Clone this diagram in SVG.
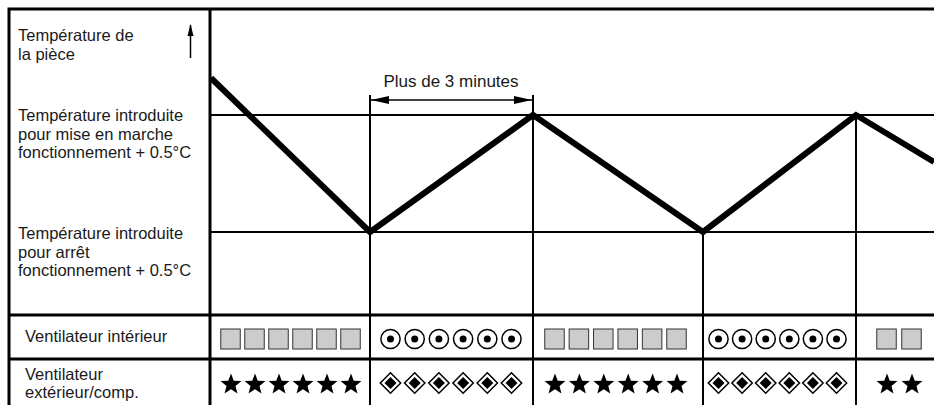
<svg xmlns="http://www.w3.org/2000/svg" xmlns:xlink="http://www.w3.org/1999/xlink" width="934" height="405" viewBox="0 0 934 405">
<defs>
<style>
.lbl{font-family:"Liberation Sans",Arial,sans-serif;font-size:16.5px;fill:#1a1a1a}
.frame{stroke:#000;stroke-width:3;fill:none}
.grid{stroke:#000;stroke-width:2;fill:none}
.sq{fill:#cccccc;stroke:#333;stroke-width:1}
</style>
<marker id="ah" viewBox="0 0 18 8" refX="18" refY="4" markerWidth="18" markerHeight="8" markerUnits="userSpaceOnUse" orient="auto-start-reverse">
<path d="M0,0 L18,4 L0,8 z" fill="#000"/>
</marker>
<polygon id="star" points="0,-11 2.78,-3.82 10.46,-3.4 4.49,1.46 6.47,8.9 0,4.72 -6.47,8.9 -4.49,1.46 -10.46,-3.4 -2.78,-3.82" fill="#000"/>
<rect id="sq" x="-9.75" y="-10" width="19.5" height="20" class="sq"/>
<g id="circ"><circle r="9.6" fill="#fff" stroke="#000" stroke-width="1.5"/><circle r="3.5" fill="#000"/></g>
<g id="dia"><polygon points="0,-10.2 10.2,0 0,10.2 -10.2,0" fill="#fff" stroke="#000" stroke-width="1.5"/><polygon points="0,-6 6,0 0,6 -6,0" fill="#000"/></g>
</defs>
<rect width="934" height="405" fill="#fff"/>

<g id="frame">
<path class="frame" d="M9,405 V9 H934 M210,9 V405 M9,315 H934 M9,359 H934"/>
<path class="grid" d="M210,115 H934 M210,232 H934"/>
</g>

<g id="connectors">
<path class="grid" d="M370,95 V315 M533,95 V315 M703,232 V315 M856,115 V315 M370,315 V405 M533,315 V405 M703,315 V405 M856,315 V405"/>
<polyline points="211,78 370,232 533,115 703,232 856,115 934,162" fill="none" stroke="#000" stroke-width="6" stroke-linejoin="miter"/>
<line x1="371" y1="100" x2="532" y2="100" stroke="#000" stroke-width="1.5" marker-start="url(#ah)" marker-end="url(#ah)"/>
<line x1="190.5" y1="58" x2="190.5" y2="25" stroke="#000" stroke-width="1.5"/>
<path d="M190.5,24 L193.5,36 L187.5,36 z" fill="#000"/>
</g>

<g id="labels">
<text class="lbl" x="18" y="41">Température de<tspan x="18" dy="18.5">la pièce</tspan></text>
<text class="lbl" x="18" y="121">Température introduite<tspan x="18" dy="18.5">pour mise en marche</tspan><tspan x="18" dy="18.5">fonctionnement + 0.5°C</tspan></text>
<text class="lbl" x="18" y="239">Température introduite<tspan x="18" dy="18.5">pour arrêt</tspan><tspan x="18" dy="18.5">fonctionnement + 0.5°C</tspan></text>
<text class="lbl" x="25" y="342">Ventilateur intérieur</text>
<text class="lbl" x="25" y="379.5">Ventilateur<tspan x="25" dy="18.5">extérieur/comp.</tspan></text>
<text class="lbl" x="451" y="87" text-anchor="middle" style="font-size:17px">Plus de 3 minutes</text>
</g>

<g id="indoor-fan">
<use xlink:href="#sq" x="230.5" y="339"/><use xlink:href="#sq" x="254.5" y="339"/><use xlink:href="#sq" x="278.5" y="339"/><use xlink:href="#sq" x="302.5" y="339"/><use xlink:href="#sq" x="326.5" y="339"/><use xlink:href="#sq" x="350.5" y="339"/>
<use xlink:href="#circ" x="390.5" y="339"/><use xlink:href="#circ" x="414.7" y="339"/><use xlink:href="#circ" x="438.9" y="339"/><use xlink:href="#circ" x="463.1" y="339"/><use xlink:href="#circ" x="487.3" y="339"/><use xlink:href="#circ" x="511.5" y="339"/>
<use xlink:href="#sq" x="554.5" y="339"/><use xlink:href="#sq" x="578.9" y="339"/><use xlink:href="#sq" x="603.3" y="339"/><use xlink:href="#sq" x="627.7" y="339"/><use xlink:href="#sq" x="652.1" y="339"/><use xlink:href="#sq" x="676.5" y="339"/>
<use xlink:href="#circ" x="718.5" y="339"/><use xlink:href="#circ" x="742.1" y="339"/><use xlink:href="#circ" x="765.7" y="339"/><use xlink:href="#circ" x="789.3" y="339"/><use xlink:href="#circ" x="812.9" y="339"/><use xlink:href="#circ" x="836.5" y="339"/>
<use xlink:href="#sq" x="886.5" y="339"/><use xlink:href="#sq" x="911.5" y="339"/>
</g>

<g id="outdoor-fan">
<use xlink:href="#star" x="231" y="384.5"/><use xlink:href="#star" x="255" y="384.5"/><use xlink:href="#star" x="279" y="384.5"/><use xlink:href="#star" x="303" y="384.5"/><use xlink:href="#star" x="327" y="384.5"/><use xlink:href="#star" x="351" y="384.5"/>
<use xlink:href="#dia" x="390.5" y="383"/><use xlink:href="#dia" x="414.7" y="383"/><use xlink:href="#dia" x="438.9" y="383"/><use xlink:href="#dia" x="463.1" y="383"/><use xlink:href="#dia" x="487.3" y="383"/><use xlink:href="#dia" x="511.5" y="383"/>
<use xlink:href="#star" x="555" y="384.5"/><use xlink:href="#star" x="579.4" y="384.5"/><use xlink:href="#star" x="603.8" y="384.5"/><use xlink:href="#star" x="628.2" y="384.5"/><use xlink:href="#star" x="652.6" y="384.5"/><use xlink:href="#star" x="677" y="384.5"/>
<use xlink:href="#dia" x="718.5" y="383"/><use xlink:href="#dia" x="742.1" y="383"/><use xlink:href="#dia" x="765.7" y="383"/><use xlink:href="#dia" x="789.3" y="383"/><use xlink:href="#dia" x="812.9" y="383"/><use xlink:href="#dia" x="836.5" y="383"/>
<use xlink:href="#star" x="887" y="384.5"/><use xlink:href="#star" x="912" y="384.5"/>
</g>
</svg>
